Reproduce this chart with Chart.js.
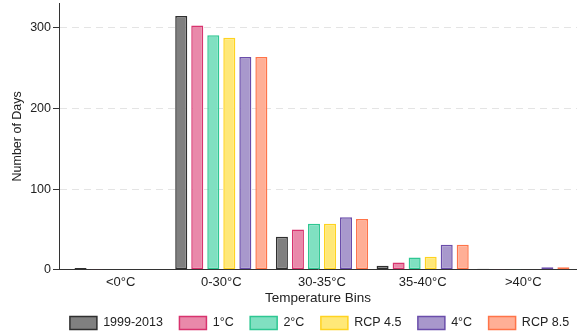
<!DOCTYPE html>
<html>
<head>
<meta charset="utf-8">
<script src="https://cdn.jsdelivr.net/npm/chart.js@4/dist/chart.umd.min.js"></script>
<style>
  html, body { margin: 0; padding: 0; background: #fff; }
  #wrap { width: 577px; height: 336px; }
</style>
</head>
<body>
<div id="wrap"><canvas id="c"></canvas></div>
<script>
// Temperature bins along the x axis
const bins = ['<0°C', '0-30°C', '30-35°C', '35-40°C', '>40°C'];

// Number of days per bin for each scenario
const baseline = [2, 315, 41, 5, 1.2];
const warm1 = [0.8, 303, 50, 9, 1];
const warm2 = [0.6, 291, 57, 15, 0.8];
const rcp45 = [0.5, 288, 57, 16, 0.5];
const warm4 = [0.6, 264, 65, 31, 3];
const rcp85 = [0.6, 264, 63, 31, 3];

const yTicks = [0, 100, 200, 300];

const seriesNames = ['1999-2013', '1°C', '2°C', 'RCP 4.5', '4°C', 'RCP 8.5'];
const seriesValues = [baseline, warm1, warm2, rcp45, warm4, rcp85];
const fills = ['#808080', '#E989AA', '#80E0C1', '#FFE878', '#A898CC', '#FFAF96'];
const edges = ['#2f2f2f', '#D8336E', '#2EC792', '#FFD320', '#6A4DAA', '#FF7449'];

const FONT = 'Liberation Sans, Arial, Helvetica, sans-serif';

// Legend is centred over the plot area rather than the whole canvas
const legendOffset = {
  id: 'legendOffset',
  afterLayout(chart) {
    const lg = chart.legend;
    if (!lg) return;
    const dx = 31, dy = -6.5;
    lg.left += dx; lg.right += dx;
    lg.top += dy; lg.bottom += dy;
  }
};

new Chart(document.getElementById('c'), {
  type: 'bar',
  data: {
    datasets: seriesNames.map((name, i) => ({
      label: name,
      data: seriesValues[i].map((v, k) => ({ x: k, y: v })),
      backgroundColor: fills[i],
      borderColor: edges[i],
      borderWidth: 1.5,
      borderSkipped: false,
      barPercentage: 0.75,
      categoryPercentage: 0.955
    }))
  },
  plugins: [legendOffset],
  options: {
    responsive: true,
    maintainAspectRatio: false,
    animation: false,
    devicePixelRatio: 1,
    layout: { padding: { top: 3, right: 0, left: 0, bottom: -10 } },
    plugins: {
      tooltip: { enabled: false },
      legend: {
        position: 'bottom',
        labels: {
          boxWidth: 27,
          boxHeight: 13,
          padding: 16.5,
          color: '#222',
          font: { family: FONT, size: 12.5 }
        }
      }
    },
    scales: {
      x: {
        type: 'linear',
        offset: false,
        min: -0.612,
        max: 4.533,
        afterBuildTicks: (scale) => { scale.ticks = bins.map((b, k) => ({ value: k })); },
        grid: { display: false, drawTicks: false, offset: false },
        border: { display: true, color: '#333', width: 1 },
        ticks: {
          color: '#222', font: { family: FONT, size: 13 }, padding: 5,
          callback: (v) => bins[v]
        },
        title: {
          display: true, text: 'Temperature Bins', color: '#222',
          font: { family: FONT, size: 13.5 }, padding: { top: -5, bottom: 0 }
        }
      },
      y: {
        min: 0,
        max: 331,
        afterBuildTicks: (scale) => { scale.ticks = yTicks.map(v => ({ value: v })); },
        afterFit: (scale) => { scale.width = 59; scale.paddingTop = 0; scale.paddingBottom = 0; },
        grid: {
          color: (ctx) => (ctx.tick && ctx.tick.value === 0 ? 'rgba(0,0,0,0)' : '#e4e4e4'),
          tickColor: '#333',
          tickLength: 6,
          drawOnChartArea: true
        },
        border: { display: true, color: '#333', width: 1, dash: [7, 5] },
        ticks: { color: '#222', font: { family: FONT, size: 12.5 }, padding: 2 },
        title: {
          display: true, text: 'Number of Days', color: '#222',
          font: { family: FONT, size: 12.5 }, padding: { top: 10, bottom: 0 }
        }
      }
    }
  }
});
</script>
</body>
</html>
